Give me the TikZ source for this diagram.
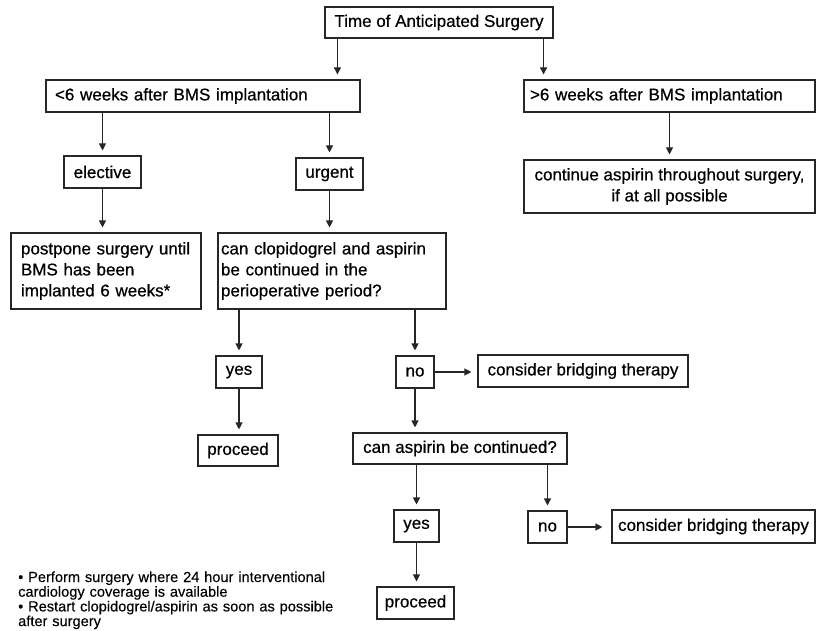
\documentclass[tikz,border=0pt]{standalone}
\usepackage{fontspec}
\setmainfont{Liberation Sans}
\newfontfamily\flowfam{Liberation Sans}[RawFeature={embolden=0.6}]
\newfontfamily\notefam{Liberation Sans}[RawFeature={embolden=0.2}]
\usetikzlibrary{arrows.meta}
\newcommand\flowfont{\flowfam\fontsize{17}{21}\selectfont}
\newcommand\notefont{\notefam\fontsize{14.6}{14.7}\selectfont}
\tikzset{
  box/.style={draw=black!85, line width=1.1pt, inner sep=0pt, font=\flowfont},
  multibox/.style={box, align=center},
  leftbox/.style={box, align=left},
  arr/.style={draw=black!85, line width=1.1pt, -{Triangle[length=7pt,width=7pt]}, shorten >=5pt}
}
\begin{document}
\begin{tikzpicture}[x=1pt, y=-1pt]
    \useasboundingbox (0,0) rectangle (816,631);
    \node[box, minimum width=228pt, minimum height=31pt] (top) at (439,22.5) {Time of Anticipated Surgery};
    \node[leftbox, text width=296pt, inner xsep=9pt, minimum height=32pt] (lt6) at (203,96) {<6 weeks after BMS implantation};
    \node[leftbox, text width=279pt, inner xsep=6pt, minimum height=32pt] (gt6) at (669.5,96) {>6 weeks after BMS implantation};
    \node[box, minimum width=77pt, minimum height=32pt] (elective) at (102.5,172) {elective};
    \node[box, minimum width=67pt, minimum height=32pt] (urgent) at (329.5,174) {urgent};
    \node[multibox, minimum width=291pt, minimum height=53pt] (contasp) at (669.5,186.5) {continue aspirin throughout surgery,\\if at all possible};
    \node[leftbox, text width=170pt, inner xsep=10pt, minimum height=76pt] (postpone) at (106,271) {postpone surgery until\\BMS has been\\implanted 6 weeks*};
    \node[leftbox, text width=222pt, inner xsep=3pt, minimum height=76pt] (canclop) at (332,271) {can clopidogrel and aspirin\\be continued in the\\perioperative period?};
    \node[box, minimum width=46pt, minimum height=32pt] (yes1) at (239,372) {yes};
    \node[box, minimum width=38pt, minimum height=32pt] (no1) at (415,372) {no};
    \node[box, minimum width=210pt, minimum height=32pt] (bridge1) at (583,371) {consider bridging therapy};
    \node[box, minimum width=80pt, minimum height=31pt] (proceed1) at (238,450.5) {proceed};
    \node[box, minimum width=214pt, minimum height=31pt] (canasp) at (460,448.5) {can aspirin be continued?};
    \node[box, minimum width=45pt, minimum height=32pt] (yes2) at (416.5,526) {yes};
    \node[box, minimum width=39pt, minimum height=32pt] (no2) at (547.5,527) {no};
    \node[box, minimum width=203pt, minimum height=33pt] (bridge2) at (713.5,526.5) {consider bridging therapy};
    \node[box, minimum width=77pt, minimum height=32pt] (proceed2) at (415.5,603) {proceed};
    \node[inner sep=0pt, anchor=base west, text width=340pt, align=left, font=\notefont] (note) at (18,582) {• Perform surgery where 24 hour interventional\\cardiology coverage is available\\• Restart clopidogrel/aspirin as soon as possible\\after surgery};
    % connectors
    \coordinate (tl) at ([xshift=13pt]top.south west);
    \coordinate (tr) at ([xshift=-10pt]top.south east);
    \draw[arr] (tl) -- (tl |- lt6.north);
    \draw[arr] (tr) -- (tr |- gt6.north);
    \foreach \i/\j in {lt6/elective, lt6/urgent, gt6/contasp, canclop/yes1, canclop/no1, canasp/yes2, canasp/no2}
        \draw[arr] (\j.north |- \i.south) -- (\j.north);
    \foreach \i/\j in {elective/postpone, urgent/canclop, yes1/proceed1, no1/canasp, yes2/proceed2}
        \draw[arr] (\i.south) -- (\i.south |- \j.north);
    \draw[arr, shorten >=6pt] (no1.east) -- (no1.east -| bridge1.west);
    \draw[arr, shorten >=9pt] (no2.east) -- (no2.east -| bridge2.west);
\end{tikzpicture}
\end{document}
